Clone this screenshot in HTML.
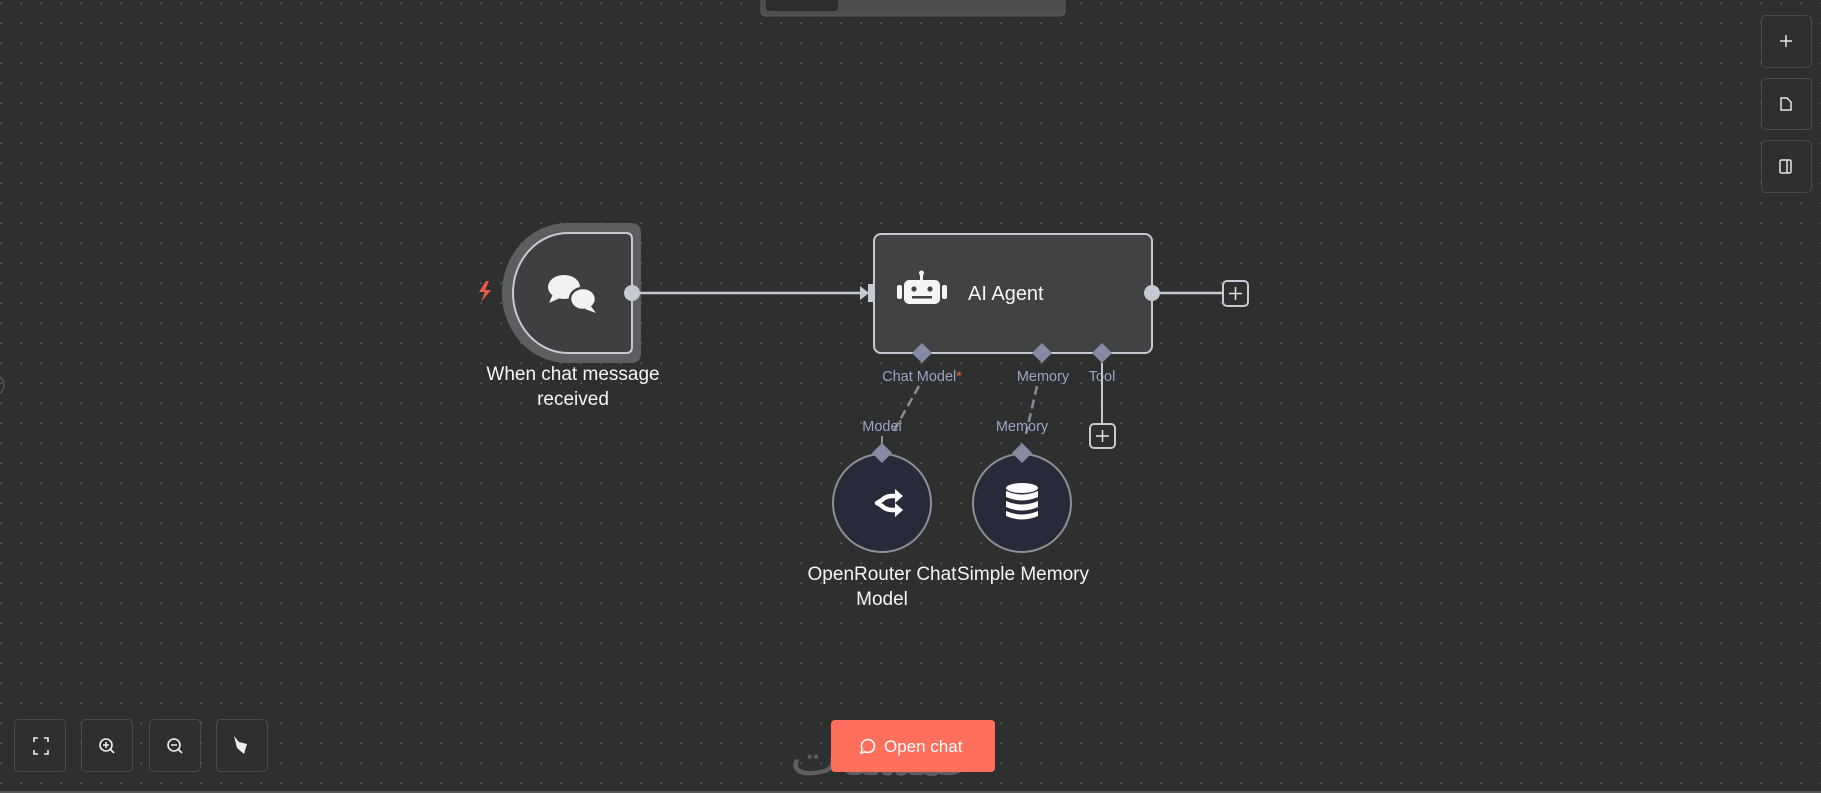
<!DOCTYPE html>
<html><head><meta charset="utf-8"><style>
html,body{margin:0;padding:0;width:1821px;height:793px;overflow:hidden;background:#2e2f2f;font-family:"Liberation Sans",sans-serif}
svg{position:absolute;left:0;top:0}
</style></head><body>
<svg width="1821" height="793" viewBox="0 0 1821 793" xmlns="http://www.w3.org/2000/svg">
<defs>
<pattern id="dots" x="0" y="2" width="20" height="20" patternUnits="userSpaceOnUse">
<rect x="0.5" y="0.5" width="1.4" height="1.4" fill="#707172"/>
</pattern>
</defs>
<rect width="1821" height="793" fill="#2e2f2f"/>
<rect width="1821" height="793" fill="url(#dots)"/>
<rect x="0" y="791" width="1821" height="2" fill="#555"/>
<circle cx="-6" cy="385" r="10" fill="none" stroke="#555" stroke-width="1.5"/>

<!-- top tab -->
<rect x="761" y="-8" width="304" height="24" rx="4" fill="#4d4e50" stroke="#5a5b5d"/>
<rect x="766" y="-6" width="72" height="17" rx="3" fill="#2c2d2f"/>

<!-- right buttons -->
<g fill="#2e2f2f" stroke="#4a4b4d" stroke-width="1">
<rect x="1761.5" y="15.5" width="50" height="52" rx="4"/>
<rect x="1761.5" y="78.5" width="50" height="51" rx="4"/>
<rect x="1761.5" y="140.5" width="50" height="52" rx="4"/>
</g>
<g stroke="#e6e6e6" stroke-width="1.5" fill="none">
<path d="M1786 35v12M1780 41h12"/>
<path d="M1781 98h6l4 4v8h-10z"/>
<rect x="1780" y="160" width="11" height="13" rx="1.5"/><path d="M1787 160v13"/>
</g>

<!-- trigger node -->
<path d="M567 223 H631 Q641 223 641 233 V353 Q641 363 631 363 H567 A65 70 0 0 1 502 293 A65 70 0 0 1 567 223 Z" fill="#5d5e5f"/>
<path d="M568 233 H626 Q632 233 632 239 V347 Q632 353 626 353 H568 A55 60 0 0 1 513 293 A55 60 0 0 1 568 233 Z" fill="#3e3f41" stroke="#c8cad3" stroke-width="2"/>
<path d="M486 281 l-7 11 h6 l-4 10 l10 -12 h-6 l4 -9z" fill="#ee5a45"/>
<g fill="#f2f2f4">
<ellipse cx="564" cy="287" rx="16" ry="12"/>
<path d="M553 294 l-4 9 l11 -5z"/>
<ellipse cx="583" cy="299" rx="13" ry="11" stroke="#3e3f41" stroke-width="2.5"/>
<path d="M590 305 l6 8 l-11 -4z"/>
</g>
<circle cx="632" cy="293" r="8" fill="#c8cad3"/>
<line x1="640" y1="293" x2="866" y2="293" stroke="#c8cad3" stroke-width="2.5"/>
<path d="M860 286 l9 7 l-9 7z" fill="#c8cad3"/>
<rect x="868" y="284" width="6" height="18" fill="#c8cad3"/>
<text x="573" y="380" fill="#f5f5f5" font-size="19" text-anchor="middle">When chat message</text>
<text x="573" y="405" fill="#f5f5f5" font-size="19" text-anchor="middle">received</text>

<!-- AI agent -->
<rect x="874" y="234" width="278" height="119" rx="7" fill="#414244" stroke="#c8cad3" stroke-width="2"/>
<g fill="#f5f5f6">
<rect x="904" y="280" width="36" height="24" rx="5"/>
<rect x="920" y="273" width="3" height="8"/>
<circle cx="921.5" cy="273" r="2.5"/>
<rect x="897" y="285" width="5" height="14" rx="2"/>
<rect x="942" y="285" width="5" height="14" rx="2"/>
</g>
<g fill="#414244"><circle cx="914" cy="289" r="2.6"/><circle cx="930" cy="289" r="2.6"/><rect x="912" y="296" width="20" height="2.5"/></g>
<text x="968" y="300" fill="#f5f5f5" font-size="20">AI Agent</text>
<circle cx="1152" cy="293" r="8" fill="#c8cad3"/>
<line x1="1160" y1="293" x2="1223" y2="293" stroke="#c8cad3" stroke-width="2.5"/>
<rect x="1223" y="281" width="25" height="25" rx="4" fill="#2e2f2f" stroke="#c8cad3" stroke-width="2"/>
<path d="M1235.5 287v13M1229 293.5h13" stroke="#e6e6e6" stroke-width="1.5"/>

<!-- bottom handles -->
<g fill="#878aa3">
<path d="M922 343 l10 10 l-10 10 l-10 -10z"/>
<path d="M1042 343 l10 10 l-10 10 l-10 -10z"/>
<path d="M1102 343 l10 10 l-10 10 l-10 -10z"/>
</g>
<text x="922" y="381" fill="#9ea2c5" font-size="14.5" text-anchor="middle">Chat Model<tspan fill="#ee5a45">*</tspan></text>
<text x="1043" y="381" fill="#9ea2c5" font-size="14.5" text-anchor="middle">Memory</text>
<text x="1102" y="381" fill="#9ea2c5" font-size="14.5" text-anchor="middle">Tool</text>
<path d="M919 386 L892 434" stroke="#8a8c94" stroke-width="2.5" stroke-dasharray="9 5"/>
<path d="M1037 386 L1026 434" stroke="#8a8c94" stroke-width="2.5" stroke-dasharray="9 5"/>
<line x1="1102" y1="363" x2="1102" y2="423" stroke="#c8cad3" stroke-width="2"/>
<rect x="1090" y="424" width="25" height="24" rx="4" fill="#2e2f2f" stroke="#c8cad3" stroke-width="2"/>
<path d="M1102.5 430v12M1096 436h13" stroke="#e6e6e6" stroke-width="1.5"/>
<text x="882" y="431" fill="#9ea2c5" font-size="14.5" text-anchor="middle">Model</text>
<text x="1022" y="431" fill="#9ea2c5" font-size="14.5" text-anchor="middle">Memory</text>
<line x1="882" y1="436" x2="882" y2="446" stroke="#8a8c94" stroke-width="2"/>

<!-- sub nodes -->
<circle cx="882" cy="503" r="49" fill="#282a3a" stroke="#8e8f94" stroke-width="2"/>
<circle cx="1022" cy="503" r="49" fill="#282a3a" stroke="#8e8f94" stroke-width="2"/>
<g fill="#878aa3">
<path d="M882 443 l10 10 l-10 10 l-10 -10z"/>
<path d="M1022 443 l10 10 l-10 10 l-10 -10z"/>
</g>
<g fill="none" stroke="#fff" stroke-width="4.5" stroke-linejoin="round">
<path d="M896 496 h-4 q-6 0 -10 4 l-5 3 l5 3 q4 4 10 4 h4"/>
</g>
<path d="M895 489 l8 7 l-8 7z M895 503 l8 7 l-8 7z" fill="#fff"/>
<g fill="#fff">
<ellipse cx="1022" cy="488" rx="16" ry="5"/>
<path d="M1006 491 q16 7 32 0 v6 q-16 7 -32 0z"/>
<path d="M1006 501 q16 7 32 0 v6 q-16 7 -32 0z"/>
<path d="M1006 511 q16 7 32 0 v5 q-16 7 -32 0z"/>
</g>
<text x="882" y="580" fill="#f5f5f5" font-size="19" text-anchor="middle">OpenRouter Chat</text>
<text x="882" y="605" fill="#f5f5f5" font-size="19" text-anchor="middle">Model</text>
<text x="1023" y="580" fill="#f5f5f5" font-size="19" text-anchor="middle">Simple Memory</text>

<!-- bottom controls -->
<g fill="#2e2f2f" stroke="#4a4b4d" stroke-width="1">
<rect x="14.5" y="719.5" width="51" height="52" rx="4"/>
<rect x="81.5" y="719.5" width="51" height="52" rx="4"/>
<rect x="149.5" y="719.5" width="51" height="52" rx="4"/>
<rect x="216.5" y="719.5" width="51" height="52" rx="4"/>
</g>
<g stroke="#eee" stroke-width="1.6" fill="none">
<path d="M34 742v-4h4M44 738h4v4M48 750v4h-4M38 754h-4v-4"/>
<circle cx="106" cy="745" r="6"/><path d="M110 749l4 4M106 742v6M103 745h6"/>
<circle cx="174" cy="745" r="6"/><path d="M178 749l4 4M171 745h6"/>
</g>
<path d="M234 736 l5 6 l8 2 l-3 10 l-7 -6 z" fill="#eee"/>
<text x="790" y="775" fill="#5e5f60" font-size="52" font-family="'Noto Sans CJK SC',sans-serif">خمستات</text>
<rect x="831" y="720" width="164" height="52" rx="4" fill="#ff6f5c"/>
<path d="M868 739.5 a6.5 6.5 0 1 1 -3 12.3 l-4 1.2 l1.2 -4 a6.5 6.5 0 0 1 5.8 -9.5z" fill="none" stroke="#fff" stroke-width="1.6"/>
<text x="884" y="752" fill="#fff" font-size="17">Open chat</text>
</svg>
</body></html>
